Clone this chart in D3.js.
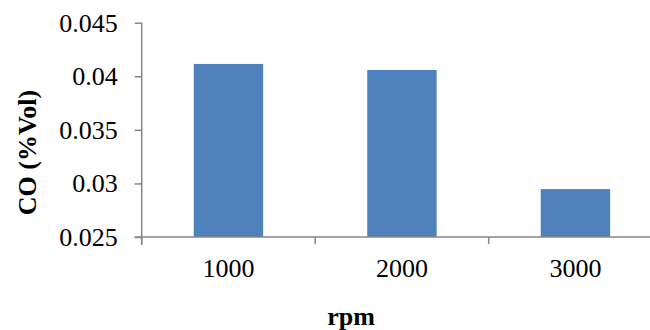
<!DOCTYPE html>
<html><head><meta charset="utf-8">
<script src="https://cdn.jsdelivr.net/npm/d3@7"></script>
<style>body{margin:0;background:#fff}svg{display:block}</style>
</head><body>
<script>
const categories = ["1000", "2000", "3000"];
const coValues = [0.04115, 0.04059, 0.02947];
const yTicks = [0.025, 0.03, 0.035, 0.04, 0.045];
const yTickLabels = ["0.025", "0.03", "0.035", "0.04", "0.045"];
const xTitle = "rpm";
const yTitle = "CO (%Vol)";

(function () {
const W = 650, H = 330;
const mLeft = 141.7, mTop = 22.7, mBottom = 237.0, mRight = 662.2;
const font = "'Liberation Serif','Times New Roman',serif";
const fs = 26;
const axisColor = "#868686";

const svg = d3.select("body").append("svg").attr("width", W).attr("height", H);

const x = d3.scaleBand().domain(categories).range([mLeft, mRight]).padding(0);
const y = d3.scaleLinear().domain([0.025, 0.045]).range([mBottom, mTop]);

const barW = x.bandwidth() * 0.4;
svg.append("g").selectAll("rect").data(categories).join("rect")
  .attr("x", (d) => x(d) + (x.bandwidth() - barW) / 2)
  .attr("width", barW)
  .attr("y", (d, i) => y(coValues[i]))
  .attr("height", (d, i) => y(0.025) - y(coValues[i]))
  .attr("fill", "#4f81bd");

// Y axis
const yAxis = d3.axisLeft(y).tickValues(yTicks).tickSize(7).tickPadding(17)
  .tickFormat((d, i) => yTickLabels[i]);
const gy = svg.append("g").attr("transform", `translate(${mLeft},0)`).call(yAxis);
gy.select(".domain").attr("stroke", axisColor).attr("stroke-width", 1.5)
  .attr("d", `M0,${mTop}V${mBottom + 8}`);
gy.selectAll(".tick line").attr("stroke", axisColor).attr("stroke-width", 1.5);
gy.selectAll(".tick text").attr("font-family", font).attr("font-size", fs).attr("fill", "#000");

// X axis
const xAxis = d3.axisBottom(x).tickSize(0).tickPadding(22);
const gx = svg.append("g").attr("transform", `translate(0,${mBottom})`).call(xAxis);
gx.select(".domain").attr("stroke", axisColor).attr("stroke-width", 1.5)
  .attr("d", `M${mLeft - 7},0H${W + 20}`);
gx.selectAll(".tick text").attr("font-family", font).attr("font-size", fs).attr("fill", "#000");
const bounds = categories.map((d) => x(d)).concat([x(categories[2]) + x.bandwidth()]);
gx.append("g").selectAll("line").data(bounds).join("line")
  .attr("x1", (d) => d).attr("x2", (d) => d)
  .attr("y1", 0).attr("y2", 7)
  .attr("stroke", axisColor).attr("stroke-width", 1.5);

// titles
svg.append("text").attr("x", 351).attr("y", 325)
  .attr("text-anchor", "middle").attr("font-family", font)
  .attr("font-weight", "bold").attr("font-size", fs).text(xTitle);
svg.append("text")
  .attr("transform", `translate(36,152.5) rotate(-90)`)
  .attr("text-anchor", "middle").attr("font-family", font)
  .attr("font-weight", "bold").attr("font-size", fs).text(yTitle);
})();
</script>
</body></html>
